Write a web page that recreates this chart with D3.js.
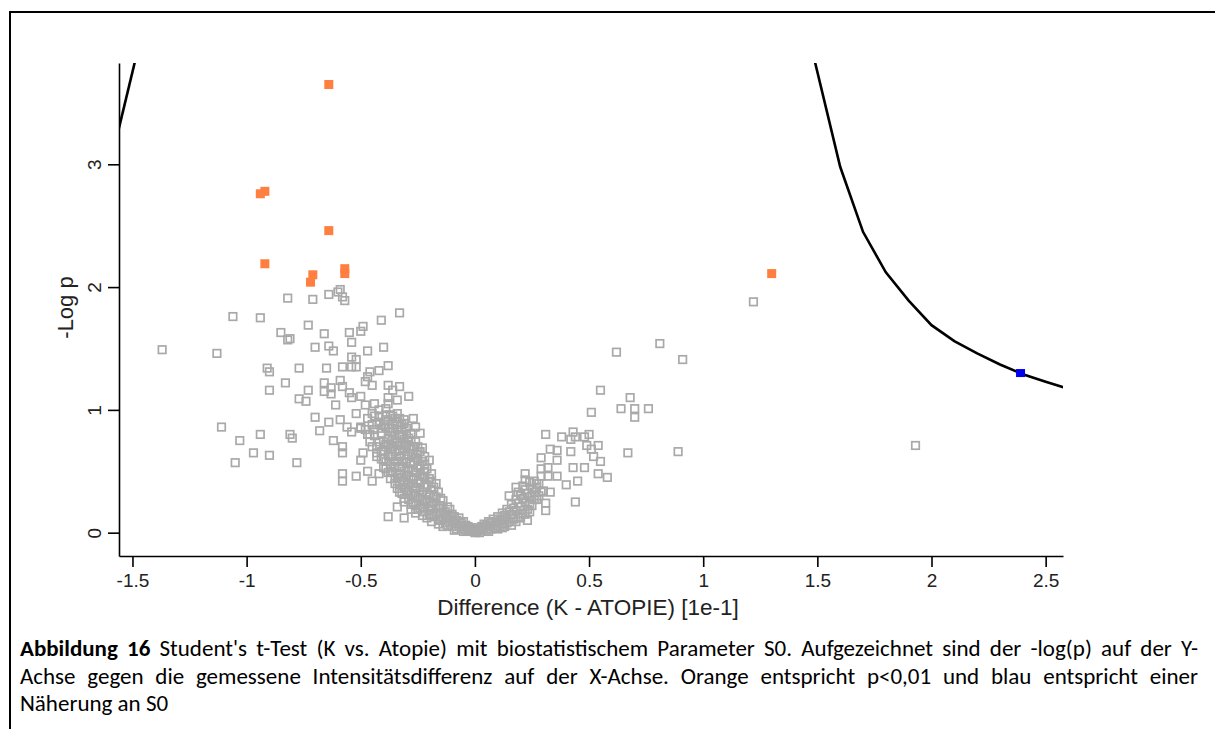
<!DOCTYPE html>
<html>
<head>
<meta charset="utf-8">
<script src="https://cdn.jsdelivr.net/npm/d3@7"></script>
<style>
  body { margin: 0; background: #fff; }
  svg { display: block; }
</style>
</head>
<body>
<div id="chart"></div>
<script>
// tick values
const xTicks = [-1.5, -1, -0.5, 0, 0.5, 1, 1.5, 2, 2.5];
const yTicks = [0, 1, 2, 3];

// S0 threshold curve
const s0Right = [[1.49, 3.83], [1.6, 2.98], [1.7, 2.45], [1.8, 2.12], [1.9, 1.89], [2.0, 1.69],
  [2.1, 1.56], [2.2, 1.46], [2.3, 1.37], [2.4, 1.29], [2.5, 1.23], [2.6, 1.17]];
const s0Left = [[-1.6, 2.98], [-1.49, 3.83]];

// p < 0.01 (orange) and S0 approximation (blue)
const orangePts = [[-0.64, 3.65], [-0.94, 2.76], [-0.92, 2.78], [-0.64, 2.46], [-0.92, 2.19],
  [-0.71, 2.10], [-0.72, 2.04], [-0.57, 2.15], [-0.57, 2.11], [1.30, 2.11]];
const bluePts = [[2.39, 1.30]];

// all other proteins (difference, -log p)
const grayPts = [
  [-1.37,1.49],[-1.13,1.46],[-1.06,1.76],[-0.94,1.75],[-0.82,1.91],[-0.71,1.90],[-0.64,1.94],[-0.60,1.96],
  [-0.85,1.63],[-0.82,1.57],[-0.81,1.58],[-0.73,1.69],[-0.66,1.62],[-0.70,1.51],[-0.64,1.52],[-0.62,1.48],
  [-0.91,1.34],[-0.90,1.31],[-0.77,1.34],[-0.65,1.34],[-0.83,1.22],[-0.90,1.16],[-0.73,1.16],[-0.77,1.09],
  [-0.74,1.07],[-0.66,1.22],[-0.66,1.15],[-0.63,1.18],[-0.63,1.13],[-0.61,1.04],[-0.70,0.94],[-0.64,0.90],
  [-0.68,0.83],[-0.62,0.75],[-1.11,0.86],[-1.03,0.75],[-0.94,0.80],[-0.81,0.80],[-0.80,0.77],[-0.97,0.65],
  [-0.90,0.63],[-1.05,0.57],[-0.78,0.57],
  [-0.59,1.98],[-0.58,1.92],[-0.57,1.89],[-0.33,1.79],[-0.41,1.73],[-0.49,1.68],[-0.50,1.64],[-0.55,1.63],
  [-0.54,1.55],[-0.47,1.48],[-0.40,1.51],[-0.54,1.43],[-0.52,1.41],[-0.52,1.35],[-0.54,1.35],[-0.58,1.35],
  [-0.38,1.36],[-0.42,1.32],[-0.46,1.31],[-0.47,1.27],[-0.48,1.23],[-0.45,1.20],[-0.59,1.24],[-0.58,1.19],
  [-0.55,1.14],[-0.54,1.10],[-0.38,1.20],[-0.36,1.16],[-0.33,1.19],[-0.29,1.11],[-0.34,1.08],[-0.38,1.10],
  [-0.50,1.11],[-0.48,1.04],[-0.44,1.05],[-0.42,1.00],[-0.58,0.70],[-0.59,0.92],[-0.56,0.86],[-0.54,0.82],
  [-0.50,0.85],[-0.47,0.80],[-0.39,0.92],[-0.36,0.85],[-0.31,0.92],[-0.27,0.93],[-0.26,0.86],[-0.24,0.81],
  [-0.58,0.65],[-0.49,0.65],[-0.50,0.59],[-0.58,0.48],[-0.58,0.42],[-0.52,0.46],[-0.47,0.50],[-0.45,0.42],
  [-0.42,0.48],[-0.43,0.65],[-0.39,0.70],[-0.35,0.73],[-0.27,0.70],[-0.23,0.69],[-0.20,0.59],[-0.38,0.13],
  [-0.31,0.12],[-0.34,0.21],
  // dense left arm
  [-0.01,0.01],[-0.02,0.02],[-0.03,0.01],[-0.02,0.04],[-0.03,0.03],
  [-0.04,0.02],[-0.05,0.05],[-0.04,0.06],[-0.06,0.03],[-0.06,0.08],[-0.05,0.01],
  [-0.07,0.05],[-0.08,0.10],[-0.08,0.03],[-0.09,0.07],[-0.07,0.12],[-0.09,0.13],
  [-0.10,0.05],[-0.11,0.09],[-0.10,0.15],[-0.12,0.06],[-0.12,0.13],[-0.11,0.19],[-0.12,0.21],
  [-0.13,0.08],[-0.14,0.12],[-0.13,0.17],[-0.15,0.22],[-0.14,0.26],[-0.15,0.10],[-0.15,0.16],
  [-0.16,0.11],[-0.17,0.15],[-0.16,0.20],[-0.18,0.25],[-0.17,0.29],[-0.16,0.33],[-0.18,0.13],[-0.18,0.37],[-0.17,0.40],
  [-0.19,0.14],[-0.20,0.18],[-0.19,0.22],[-0.21,0.26],[-0.20,0.31],[-0.19,0.35],[-0.21,0.39],[-0.20,0.44],[-0.19,0.48],[-0.21,0.52],[-0.20,0.15],
  [-0.22,0.17],[-0.23,0.21],[-0.22,0.25],[-0.24,0.29],[-0.23,0.33],[-0.22,0.37],[-0.24,0.41],[-0.23,0.46],[-0.22,0.50],[-0.24,0.54],[-0.23,0.58],[-0.22,0.62],[-0.24,0.20],[-0.24,0.66],
  [-0.25,0.19],[-0.26,0.23],[-0.25,0.28],[-0.27,0.32],[-0.26,0.36],[-0.25,0.40],[-0.27,0.44],[-0.26,0.49],[-0.25,0.53],[-0.27,0.57],[-0.26,0.61],[-0.25,0.66],[-0.27,0.70],[-0.26,0.74],[-0.27,0.24],
  [-0.28,0.23],[-0.29,0.27],[-0.28,0.31],[-0.30,0.35],[-0.29,0.39],[-0.28,0.43],[-0.30,0.47],[-0.29,0.52],[-0.28,0.56],[-0.30,0.60],[-0.29,0.64],[-0.28,0.68],[-0.30,0.72],[-0.29,0.77],[-0.28,0.81],[-0.30,0.85],
  [-0.31,0.28],[-0.32,0.32],[-0.31,0.37],[-0.33,0.41],[-0.32,0.45],[-0.31,0.50],[-0.33,0.54],[-0.32,0.58],[-0.31,0.63],[-0.33,0.67],[-0.32,0.71],[-0.31,0.76],[-0.33,0.80],[-0.32,0.84],[-0.31,0.89],[-0.33,0.93],
  [-0.34,0.36],[-0.35,0.40],[-0.34,0.45],[-0.36,0.49],[-0.35,0.53],[-0.34,0.58],[-0.36,0.62],[-0.35,0.66],[-0.34,0.71],[-0.36,0.75],[-0.35,0.79],[-0.34,0.84],[-0.36,0.88],[-0.35,0.93],[-0.34,0.97],
  [-0.37,0.44],[-0.38,0.49],[-0.37,0.54],[-0.39,0.58],[-0.38,0.63],[-0.37,0.68],[-0.39,0.72],[-0.38,0.77],[-0.37,0.82],[-0.39,0.86],[-0.38,0.91],[-0.37,0.96],[-0.39,1.01],[-0.38,1.05],
  [-0.40,0.53],[-0.41,0.60],[-0.40,0.67],[-0.42,0.74],[-0.41,0.81],[-0.40,0.88],[-0.42,0.95],
  [-0.43,0.62],[-0.45,0.70],[-0.44,0.79],[-0.43,0.88],[-0.45,0.97],
  [-0.46,0.74],[-0.48,0.84],[-0.47,0.93],[-0.50,0.86],[-0.52,0.97],
  [-0.03,0.05],[-0.05,0.09],[-0.07,0.08],[-0.09,0.02],[-0.10,0.11],[-0.11,0.14],[-0.13,0.12],[-0.14,0.05],
  [-0.14,0.20],[-0.15,0.28],[-0.16,0.07],[-0.17,0.22],[-0.18,0.30],[-0.19,0.09],[-0.19,0.41],[-0.20,0.24],
  [-0.21,0.12],[-0.21,0.33],[-0.22,0.45],[-0.22,0.55],[-0.23,0.14],[-0.23,0.27],[-0.24,0.37],[-0.24,0.48],
  [-0.25,0.59],[-0.25,0.70],[-0.26,0.16],[-0.26,0.30],[-0.27,0.40],[-0.27,0.51],[-0.27,0.64],[-0.28,0.75],
  [-0.28,0.19],[-0.29,0.34],[-0.29,0.46],[-0.30,0.57],[-0.29,0.70],[-0.30,0.80],[-0.31,0.25],[-0.31,0.42],
  [-0.32,0.53],[-0.31,0.68],[-0.32,0.79],[-0.32,0.88],[-0.33,0.33],[-0.33,0.48],[-0.33,0.62],[-0.34,0.74],
  [-0.34,0.90],[-0.35,0.44],[-0.35,0.58],[-0.36,0.70],[-0.36,0.82],[-0.36,0.95],[-0.37,0.50],[-0.37,0.62],
  [-0.38,0.72],[-0.38,0.85],[-0.39,0.96],[-0.39,0.52],[-0.40,0.60],[-0.40,0.74],[-0.41,0.85],[-0.41,0.66],
  [-0.42,0.90],[-0.43,0.70],[-0.44,0.84],[-0.44,0.95],[-0.46,0.80],[-0.45,0.88],
  // around zero
  [0.00,0.00],[-0.01,0.03],[0.01,0.04],[0.00,0.02],
  // dense right arm
  [0.01,0.01],[0.02,0.03],[0.03,0.02],[0.02,0.00],[0.04,0.04],[0.05,0.02],[0.04,0.07],[0.06,0.05],[0.07,0.03],
  [0.06,0.09],[0.08,0.06],[0.09,0.04],[0.08,0.11],[0.10,0.08],[0.11,0.05],[0.10,0.13],[0.12,0.10],[0.13,0.07],
  [0.12,0.16],[0.14,0.12],[0.15,0.09],[0.14,0.19],[0.16,0.15],[0.17,0.11],[0.16,0.23],[0.18,0.18],[0.19,0.13],
  [0.18,0.27],[0.20,0.21],[0.21,0.16],[0.20,0.31],[0.22,0.25],[0.23,0.19],[0.22,0.35],[0.24,0.29],[0.25,0.22],
  [0.26,0.33],[0.27,0.27],[0.28,0.40],[0.30,0.34],[0.29,0.46],[0.26,0.42],
  [0.03,0.05],[0.05,0.06],[0.06,0.01],[0.07,0.08],[0.09,0.09],[0.10,0.03],[0.11,0.11],[0.12,0.04],
  [0.13,0.14],[0.14,0.08],[0.15,0.17],[0.16,0.06],[0.17,0.20],[0.18,0.09],[0.19,0.24],[0.20,0.12],
  [0.21,0.28],[0.22,0.15],[0.23,0.32],[0.24,0.24],[0.25,0.36],[0.26,0.27],[0.27,0.40],[0.28,0.30],
  [0.21,0.38],[0.24,0.41],[0.19,0.33],
  // sparse right
  [0.62,1.47],[0.81,1.54],[0.91,1.41],[0.55,1.16],[0.68,1.10],[0.64,1.01],[0.70,1.01],[0.76,1.01],
  [0.70,0.94],[0.51,0.98],[0.67,0.65],[0.89,0.66],[0.31,0.80],[0.38,0.78],[0.43,0.82],[0.44,0.78],
  [0.48,0.78],[0.50,0.80],[0.42,0.76],[0.33,0.68],[0.36,0.67],[0.42,0.66],[0.49,0.71],[0.51,0.68],
  [0.54,0.71],[0.52,0.62],[0.55,0.58],[0.29,0.61],[0.36,0.59],[0.43,0.53],[0.48,0.53],[0.54,0.48],
  [0.58,0.45],[0.29,0.52],[0.32,0.53],[0.36,0.46],[0.32,0.46],[0.40,0.39],[0.45,0.42],[0.44,0.25],
  [0.22,0.48],[0.22,0.43],[0.18,0.37],[0.27,0.37],[0.29,0.33],[0.33,0.33],[0.15,0.30],[0.20,0.30],
  [0.25,0.29],[0.31,0.24],[0.31,0.18],[0.24,0.17],[0.23,0.10],[0.13,0.05],
  [1.22,1.88],[1.93,0.71]
];

// axis titles and caption
const xTitle = "Difference (K - ATOPIE) [1e-1]";
const yTitle = "-Log p";
const captionLead = "Abbildung 16";
const captionLines = [
  " Student's t-Test (K vs. Atopie) mit biostatistischem Parameter S0. Aufgezeichnet sind der -log(p) auf der Y-",
  "Achse gegen die gemessene Intensitätsdifferenz auf der X-Achse. Orange entspricht p<0,01 und blau entspricht einer",
  "Näherung an S0"
];

const W = 1215, H = 729;
const plot = { left: 119, right: 1063, top: 63, bottom: 556 };

const svg = d3.select("#chart").append("svg")
  .attr("width", W)
  .attr("height", H);

// page frame
svg.append("path")
  .attr("d", `M10,${H} L10,12 L${W},12`)
  .attr("fill", "none")
  .attr("stroke", "#000")
  .attr("stroke-width", 2);

const x = d3.scaleLinear().domain([-1.559, 2.576]).range([plot.left, plot.right]);
const y = d3.scaleLinear().domain([-0.19, 3.825]).range([plot.bottom, plot.top]);

svg.append("clipPath").attr("id", "plotClip")
  .append("rect")
  .attr("x", plot.left).attr("y", plot.top)
  .attr("width", plot.right - plot.left)
  .attr("height", plot.bottom - plot.top);

const font = "'Liberation Sans', Arial, sans-serif";

// x axis
const xAxis = svg.append("g")
  .attr("transform", `translate(0,${plot.bottom})`)
  .call(d3.axisBottom(x).tickValues(xTicks).tickFormat(d => String(d)).tickSize(11).tickSizeOuter(0));
xAxis.select(".domain").attr("stroke-width", 1.6);
xAxis.selectAll(".tick line").attr("stroke-width", 1.6);
xAxis.selectAll(".tick text")
  .attr("y", 18)
  .attr("dy", "0.71em")
  .attr("font-family", font)
  .attr("font-size", 19)
  .attr("fill", "#222");

// y axis
const yAxis = svg.append("g")
  .attr("transform", `translate(${plot.left},0)`)
  .call(d3.axisLeft(y).tickValues(yTicks).tickFormat(d => String(d)).tickSize(11).tickSizeOuter(0));
yAxis.select(".domain").attr("stroke-width", 1.6);
yAxis.selectAll(".tick line").attr("stroke-width", 1.6);
yAxis.selectAll(".tick text")
  .attr("x", null).attr("dy", null)
  .attr("transform", "translate(-18,0) rotate(-90)")
  .attr("text-anchor", "middle")
  .attr("font-family", font)
  .attr("font-size", 19)
  .attr("fill", "#222");

// axis titles
svg.append("text")
  .attr("x", 588)
  .attr("y", 615)
  .attr("text-anchor", "middle")
  .attr("font-family", font)
  .attr("font-size", 22.5)
  .attr("fill", "#222")
  .text(xTitle);

svg.append("text")
  .attr("transform", `translate(73,${(plot.top + plot.bottom) / 2 - 2}) rotate(-90)`)
  .attr("text-anchor", "middle")
  .attr("font-family", font)
  .attr("font-size", 22)
  .attr("fill", "#222")
  .text(yTitle);

// S0 curves
const line = d3.line().x(d => x(d[0])).y(d => y(d[1]));
const curves = svg.append("g").attr("clip-path", "url(#plotClip)");
[s0Left, s0Right].forEach(c => {
  curves.append("path")
    .attr("d", line(c))
    .attr("fill", "none")
    .attr("stroke", "#000")
    .attr("stroke-width", 2.6);
});

// points
const pts = svg.append("g").attr("clip-path", "url(#plotClip)");
pts.selectAll(".gray")
  .data(grayPts)
  .enter()
  .append("rect")
  .attr("class", "gray")
  .attr("x", d => x(d[0]) - 3.75)
  .attr("y", d => y(d[1]) - 3.75)
  .attr("width", 7.5)
  .attr("height", 7.5)
  .attr("fill", "none")
  .attr("stroke", "#a9a9a9")
  .attr("stroke-width", 1.7);

pts.selectAll(".orange")
  .data(orangePts)
  .enter()
  .append("rect")
  .attr("class", "orange")
  .attr("x", d => x(d[0]) - 4.5)
  .attr("y", d => y(d[1]) - 4.5)
  .attr("width", 9)
  .attr("height", 9)
  .attr("fill", "#ff7f40");

pts.selectAll(".blue")
  .data(bluePts)
  .enter()
  .append("rect")
  .attr("class", "blue")
  .attr("x", d => x(d[0]) - 4.5)
  .attr("y", d => y(d[1]) - 4)
  .attr("width", 9)
  .attr("height", 8)
  .attr("fill", "#0000f0");

// caption, justified like the document
const capFont = "Carlito, Lato, sans-serif";
const capLeft = 20, capRight = 1198;
const capBase = [656, 684, 711];
let squeeze = 1;
const capNodes = captionLines.map((txt, i) => {
  const t = svg.append("text")
    .attr("x", capLeft)
    .attr("y", capBase[i])
    .attr("font-family", capFont)
    .attr("font-size", 23)
    .attr("fill", "#000");
  if (i === 0) t.append("tspan").attr("font-weight", "bold").text(captionLead);
  t.append("tspan").text(txt);
  return t;
});
capNodes.forEach((t, i) => {
  if (i === captionLines.length - 1) return;
  const target = capRight - capLeft;
  const len = t.node().getComputedTextLength();
  const full = (i === 0 ? captionLead : "") + captionLines[i];
  const spaces = full.split(" ").length - 1;
  if (len <= target) {
    t.attr("word-spacing", (target - len) / spaces);
  } else {
    squeeze = Math.min(squeeze, target / len);
    t.attr("textLength", target).attr("lengthAdjust", "spacingAndGlyphs");
  }
});
if (squeeze < 1) {
  const last = capNodes[capNodes.length - 1];
  const len = last.node().getComputedTextLength();
  last.attr("textLength", len * squeeze).attr("lengthAdjust", "spacingAndGlyphs");
}
</script>
</body>
</html>
